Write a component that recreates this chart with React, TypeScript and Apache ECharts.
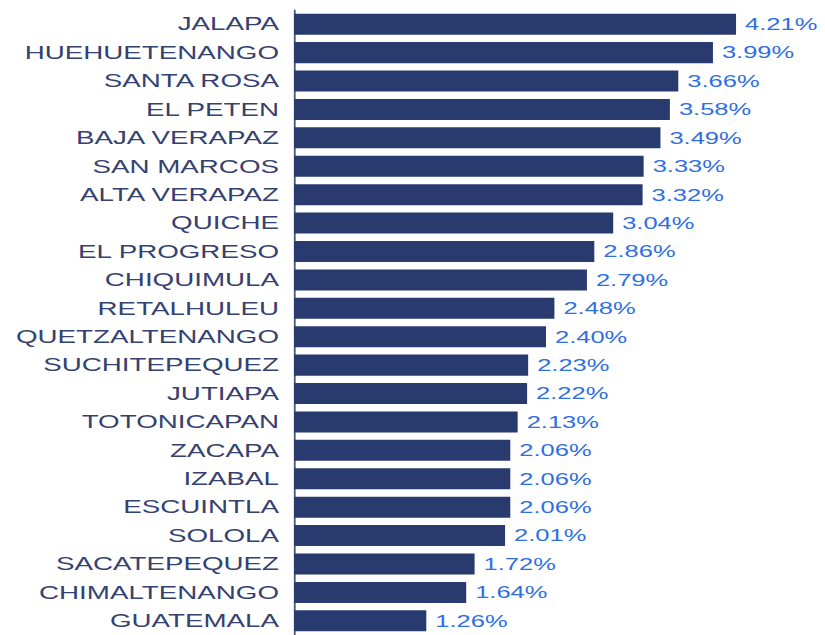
import React, { useEffect, useRef } from "react";
import * as echarts from "echarts";

const departments = [
  "JALAPA",
  "HUEHUETENANGO",
  "SANTA ROSA",
  "EL PETEN",
  "BAJA VERAPAZ",
  "SAN MARCOS",
  "ALTA VERAPAZ",
  "QUICHE",
  "EL PROGRESO",
  "CHIQUIMULA",
  "RETALHULEU",
  "QUETZALTENANGO",
  "SUCHITEPEQUEZ",
  "JUTIAPA",
  "TOTONICAPAN",
  "ZACAPA",
  "IZABAL",
  "ESCUINTLA",
  "SOLOLA",
  "SACATEPEQUEZ",
  "CHIMALTENANGO",
  "GUATEMALA",
];

const percentages = [
  4.21, 3.99, 3.66, 3.58, 3.49, 3.33, 3.32, 3.04, 2.86, 2.79, 2.48, 2.4, 2.23,
  2.22, 2.13, 2.06, 2.06, 2.06, 2.01, 1.72, 1.64, 1.26,
];

const STRETCH = 1.5;

export default function App() {
  const ref = useRef<HTMLDivElement>(null);

  useEffect(() => {
    if (!ref.current) return;
    const chart = echarts.init(ref.current, null, { renderer: "svg" });
    chart.setOption({
      animation: false,
      backgroundColor: "#ffffff",
      grid: { left: 196, top: 10, width: 350, height: 631, containLabel: false },
      xAxis: {
        type: "value",
        min: 0,
        max: 5,
        show: false,
      },
      yAxis: {
        type: "category",
        data: departments,
        inverse: true,
        axisLine: { show: true, lineStyle: { color: "#4a5580", width: 1.2 } },
        axisTick: { show: false },
        axisLabel: {
          margin: 10,
          color: "#354270",
          fontFamily: "Liberation Sans, Arial, sans-serif",
          fontSize: 18.5,
          padding: [2, 0, 0, 0],
        },
        splitLine: { show: false },
      },
      series: [
        {
          type: "bar",
          data: percentages,
          barCategoryGap: "26%",
          itemStyle: { color: "#293a6f" },
          label: {
            show: true,
            position: "right",
            distance: 6,
            color: "#2f6fe4",
            fontFamily: "Liberation Sans, Arial, sans-serif",
            fontSize: 17,
            formatter: (p: any) => p.value.toFixed(2) + "%",
          },
        },
      ],
    });
    return () => chart.dispose();
  }, []);

  return (
    <div
      style={{
        position: "fixed",
        left: 0,
        top: 0,
        width: 825,
        height: 635,
        overflow: "hidden",
        background: "#fff",
      }}
    >
      <div
        ref={ref}
        style={{
          width: 825 / STRETCH,
          height: 635,
          transform: `scaleX(${STRETCH})`,
          transformOrigin: "0 0",
        }}
      />
    </div>
  );
}
